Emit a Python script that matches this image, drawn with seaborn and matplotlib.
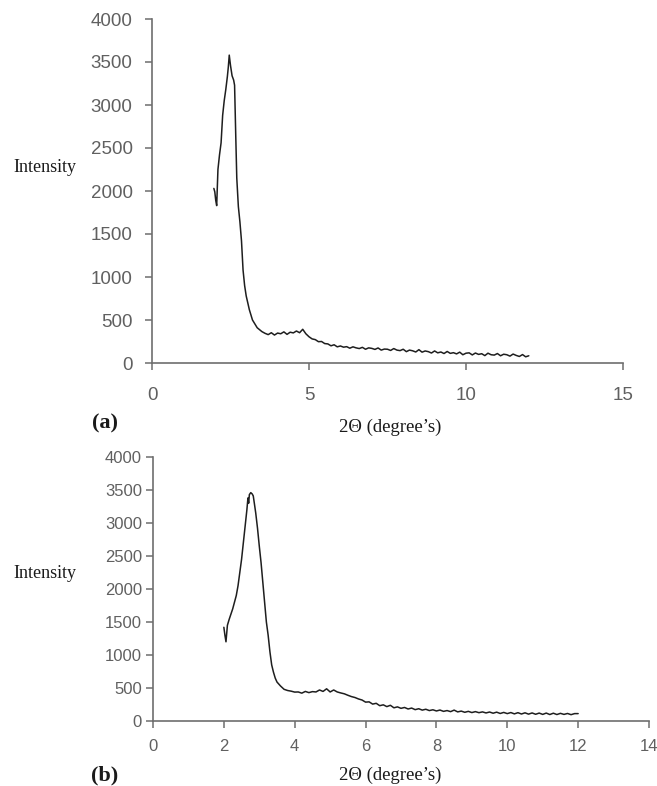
import matplotlib
matplotlib.use("Agg")
import matplotlib.pyplot as plt
import seaborn as sns
import pandas as pd

# ---------------- data ----------------
two_theta_a = [1.97, 2.00, 2.03, 2.06, 2.10, 2.15, 2.20, 2.25, 2.30, 2.35, 2.40, 2.43,
               2.46, 2.50, 2.55, 2.60, 2.63, 2.67, 2.70, 2.75, 2.80, 2.85, 2.90, 2.95,
               3.00, 3.05, 3.10, 3.15, 3.20, 3.25, 3.30, 3.35, 3.40, 3.45, 3.50,
               3.6, 3.7, 3.8, 3.9, 4.0, 4.1, 4.2, 4.3, 4.4, 4.5, 4.6, 4.7, 4.8, 4.9,
               5.0, 5.1, 5.2, 5.3, 5.4, 5.5, 5.6, 5.7, 5.8, 5.9, 6.0, 6.1, 6.2, 6.3,
               6.4, 6.5, 6.6, 6.7, 6.8, 6.9, 7.0, 7.1, 7.2, 7.3, 7.4, 7.5, 7.6, 7.7,
               7.8, 7.9, 8.0, 8.1, 8.2, 8.3, 8.4, 8.5, 8.6, 8.7, 8.8, 8.9, 9.0, 9.1,
               9.2, 9.3, 9.4, 9.5, 9.6, 9.7, 9.8, 9.9, 10.0, 10.1, 10.2, 10.3, 10.4,
               10.5, 10.6, 10.7, 10.8, 10.9, 11.0, 11.1, 11.2, 11.3, 11.4, 11.5, 11.6,
               11.7, 11.8, 11.9, 12.0]
intensity_a = [2030, 1990, 1890, 1830, 2250, 2420, 2560, 2880, 3050, 3180, 3330, 3440,
               3580, 3460, 3340, 3290, 3230, 2600, 2150, 1820, 1640, 1420, 1080, 900,
               780, 700, 620, 560, 500, 470, 440, 410, 395, 380, 365,
               345, 330, 352, 325, 348, 340, 362, 333, 358, 350, 372, 352, 392, 340,
               305, 280, 272, 248, 250, 226, 222, 200, 212, 188, 198, 184, 190, 172,
               188, 176, 168, 182, 160, 176, 170, 158, 175, 150, 162, 160, 146, 168,
               150, 144, 160, 132, 150, 142, 128, 155, 126, 140, 132, 116, 140, 118,
               128, 110, 134, 112, 120, 106, 126, 96, 114, 118, 94, 116, 100,
               108, 86, 114, 96, 92, 110, 84, 102, 96, 80, 104, 88,
               76, 98, 72, 84]

two_theta_b = [2.00, 2.03, 2.06, 2.10, 2.15, 2.20, 2.25, 2.30, 2.35, 2.40, 2.45, 2.50,
               2.55, 2.60, 2.65, 2.68, 2.70, 2.72, 2.76, 2.80, 2.83, 2.86, 2.90, 2.95,
               3.00, 3.05, 3.10, 3.15, 3.20, 3.25, 3.30, 3.35, 3.40, 3.45, 3.50,
               3.6, 3.7, 3.8, 3.9, 4.0, 4.1, 4.2, 4.3, 4.4, 4.5, 4.6, 4.7, 4.8, 4.9,
               5.0, 5.1, 5.2, 5.3, 5.4, 5.5, 5.6, 5.7, 5.8, 5.9, 6.0, 6.1, 6.2, 6.3,
               6.4, 6.5, 6.6, 6.7, 6.8, 6.9, 7.0, 7.1, 7.2, 7.3, 7.4, 7.5, 7.6, 7.7,
               7.8, 7.9, 8.0, 8.1, 8.2, 8.3, 8.4, 8.5, 8.6, 8.7, 8.8, 8.9, 9.0, 9.1,
               9.2, 9.3, 9.4, 9.5, 9.6, 9.7, 9.8, 9.9, 10.0, 10.1, 10.2, 10.3, 10.4,
               10.5, 10.6, 10.7, 10.8, 10.9, 11.0, 11.1, 11.2, 11.3, 11.4, 11.5, 11.6,
               11.7, 11.8, 11.9, 12.0]
intensity_b = [1420, 1300, 1200, 1450, 1540, 1620, 1700, 1800, 1900, 2050, 2250, 2450,
               2700, 2950, 3200, 3380, 3300, 3430, 3460, 3440, 3410, 3300, 3150, 2920,
               2650, 2400, 2100, 1800, 1500, 1300, 1050, 850, 740, 650, 590,
               530, 480, 462, 452, 438, 440, 422, 448, 430, 445, 440, 470, 448, 488,
               440, 470, 440, 425, 412, 390, 370, 356, 334, 318, 286, 290, 256, 268,
               232, 245, 218, 238, 200, 214, 192, 205, 182, 196, 172, 186, 165, 178,
               158, 170, 152, 166, 146, 158, 142, 165, 138, 150, 132, 146, 128, 142,
               126, 138, 122, 136, 118, 134, 114, 130, 112, 128, 108, 126, 106,
               124, 104, 122, 102, 120, 100, 120, 98, 118, 98, 116, 100,
               114, 96, 112, 112]

yticks_ab = [0, 500, 1000, 1500, 2000, 2500, 3000, 3500, 4000]
xticks_a = [0, 5, 10, 15]
xticks_b = [0, 2, 4, 6, 8, 10, 12, 14]

ylabel_txt = "Intensity"
xlabel_txt = "2\u0398 (degree\u2019s)"
panel_labels = ["(a)", "(b)"]

df_a = pd.DataFrame({"x": two_theta_a, "y": intensity_a})
df_b = pd.DataFrame({"x": two_theta_b, "y": intensity_b})

# ---------------- figure ----------------
sns.set_theme(style="white")
plt.rcParams["font.family"] = ["Liberation Sans", "DejaVu Sans"]

W, H = 657, 786
fig = plt.figure(figsize=(W / 100, H / 100), dpi=100)
fig.patch.set_facecolor("white")


def px_axes(l, r, t, b):
    return fig.add_axes([l / W, 1 - b / H, (r - l) / W, (b - t) / H])


ax_a = px_axes(152, 623, 19, 363)
ax_b = px_axes(153, 649, 457, 721)

line_col = "#1e1e1e"
axis_col = "#6e6e6e"
tick_col = "#606060"

sns.lineplot(data=df_a, x="x", y="y", ax=ax_a, color=line_col, linewidth=1.1,
             estimator=None, sort=False)
sns.lineplot(data=df_b, x="x", y="y", ax=ax_b, color=line_col, linewidth=1.1,
             estimator=None, sort=False)

for ax, xt, xmax, fs, ypad, xpad in [(ax_a, xticks_a, 15, 13.5, 9, 12),
                                      (ax_b, xticks_b, 14, 12, 3, 8)]:
    ax.set_xlim(0, xmax)
    ax.set_ylim(0, 4000)
    ax.set_xticks(xt)
    ax.set_yticks(yticks_ab)
    ax.set_xlabel("")
    ax.set_ylabel("")
    ax.set_facecolor("white")
    for s in ["top", "right"]:
        ax.spines[s].set_visible(False)
    for s in ["left", "bottom"]:
        ax.spines[s].set_color(axis_col)
        ax.spines[s].set_linewidth(1.2)
    ax.tick_params(axis="y", direction="out", length=5, width=1.1, color=axis_col,
                   labelcolor=tick_col, labelsize=fs, pad=ypad, left=True)
    ax.tick_params(axis="x", direction="out", length=5, width=1.1, color=axis_col,
                   labelcolor=tick_col, labelsize=fs, pad=xpad, bottom=True)
    ax.grid(False)

serif = ["Liberation Serif", "DejaVu Serif"]


def ftxt(x, y, s, **kw):
    fig.text(x / W, 1 - y / H, s, ha="center", va="center", family=serif,
             color="#1a1a1a", **kw)


ftxt(45, 167, ylabel_txt, fontsize=13)
ftxt(45, 573, ylabel_txt, fontsize=13)
ftxt(105, 423, panel_labels[0], fontsize=16, fontweight="bold")
ftxt(105, 775, panel_labels[1], fontsize=16, fontweight="bold")
ftxt(390, 427, xlabel_txt, fontsize=13.5)
ftxt(390, 775, xlabel_txt, fontsize=13.5)

fig.savefig("out.png", dpi=100, facecolor="white")
